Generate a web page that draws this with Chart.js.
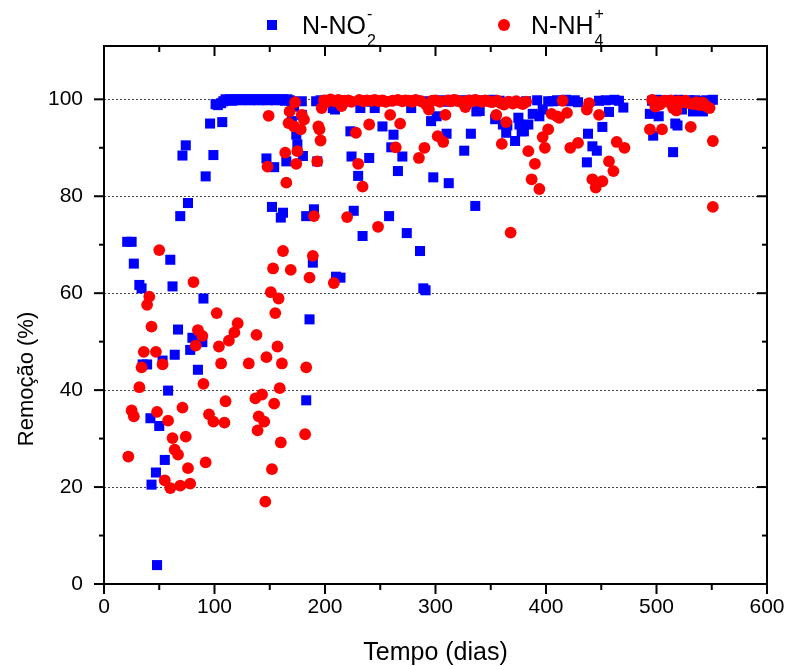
<!DOCTYPE html>
<html><head><meta charset="utf-8">
<script src="https://cdn.jsdelivr.net/npm/chart.js@4/dist/chart.umd.min.js"></script>
<style>html,body{margin:0;padding:0;background:#fff;}#wrap{width:787px;height:666px;}</style>
</head><body><div id="wrap"><canvas id="c" width="787" height="666"></canvas></div>
<script>
// ---- Data ----
const no2Days = [21,25,27,32,34,35,39,42,43,47,48,50,53,55,58,60,62,64,67,69,71,74,76,78,80,85,89,90,92,96,99,101,103,106,107,
108,110,112,114,116,118,120,122,124,126,128,130,132,134,136,138,140,142,144,146,148,150,152,154,156,158,160,162,164,166,168,170,
147,152,154,160,162,165,170,172,174,175,179,179,180,183,183,186,189,190,192,193,196,200,204,207,209,210,212,214,216,220,223,224,226,230,232,234,236,240,242,245,248,252,256,258,260,262,264,266,270,272,274,278,282,286,289,291,293,296,298,301,304,308,310,312,316,320,324,326,328,332,334,336,337,340,344,348,352,354,358,361,364,365,368,372,375,376,378,380,382,384,388,392,394,397,402,406,410,414,418,422,426,429,437,438,442,446,448,451,454,457,462,466,470,494,496,497,500,502,505,508,512,515,517,519,520,523,526,530,533,535,538,542,545,548,551];
const no2Values = [70.6,70.6,66.1,61.7,61.0,45.3,45.3,34.2,20.5,23.0,3.9,32.6,46.1,25.6,39.9,66.9,61.4,47.3,52.5,75.9,88.4,90.5,78.6,48.3,50.8,44.2,49.9,58.9,84.1,95.0,88.5,99.0,98.8,99.2,95.3,
99.6,100,99.8,100,99.7,100,99.9,100,99.8,100,99.9,100,99.8,100,99.9,100,99.8,100,99.9,100,99.8,100,99.9,100,99.8,100,99.9,100,99.7,100,99.8,99.6,
87.8,77.8,86.0,75.6,76.6,87.2,95.5,98.5,92.7,90.7,96.8,99.6,88.3,75.9,37.9,54.6,66.3,77.3,99.6,87.2,99.8,99.5,99.9,98.2,97.9,63.4,99.7,63.2,99.8,99.5,93.4,88.2,77.0,84.2,98.2,71.8,99.8,87.9,99.5,98.2,99.7,94.4,99.6,75.9,90.1,92.7,99.8,85.2,88.2,99.7,72.4,98.2,99.8,68.7,61.0,60.6,99.6,95.5,83.9,96.5,99.8,99.5,92.9,82.7,99.9,99.6,99.8,89.4,99.7,92.9,99.9,78.0,97.5,97.6,99.8,99.6,99.9,95.9,99.7,94.8,93.1,94.6,99.5,91.4,96.2,94.8,93.4,93.4,99.6,94.8,97.0,99.8,96.5,97.9,99.6,99.6,99.8,99.7,99.9,99.6,99.8,99.4,87.0,92.9,90.3,89.4,99.7,94.3,99.8,97.4,99.9,99.7,98.3,97.0,99.7,92.5,99.9,96.5,99.6,99.8,99.7,89.1,95.0,94.6,99.9,97.9,99.7,99.8,97.5,99.8,99.6,97.5,99.8,99.6,99.9];
const nh4Days = [22,25,27,32,34,36,39,41,43,47,48,50,53,55,58,60,62,64,67,69,71,74,76,78,81,83,85,89,90,92,95,99,102,104,106,109,110,113,118,121,131,137,138,139,140,143,145,146,147,148,149,151,152,153,154,155,157,158,159,160,161,162,164,165,167,168,169,172,173,174,175,178,179,181,182,183,186,189,190,193,194,195,196,197,
199,202,205,208,209,212,215,218,220,221,224,228,230,231,234,235,238,240,242,245,248,249,252,255,259,261,264,266,268,270,273,276,279,282,285,287,290,292,294,297,300,302,304,307,309,311,314,317,320,323,327,330,333,336,339,342,345,348,351,355,356,359,360,362,364,366,368,370,373,376,379,382,384,387,390,394,397,399,402,405,410,412,415,419,422,429,437,439,442,445,448,451,457,461,464,471,
494,496,499,501,503,505,507,510,513,515,518,520,523,526,529,531,533,536,539,542,545,548,551,551];
const nh4Values = [26.3,35.8,34.6,40.6,44.7,47.9,57.6,59.3,53.1,47.9,35.5,68.9,45.3,21.4,33.7,19.8,30.1,27.7,26.7,20.3,36.4,30.4,23.9,20.7,62.3,49.2,52.4,51.2,41.3,25.1,35.0,33.5,55.9,49.0,45.5,33.3,37.7,50.2,51.9,53.8,45.5,38.3,51.4,31.7,34.6,39.1,33.5,17.0,46.8,86.1,96.6,60.2,23.7,65.1,37.2,55.9,49.0,58.9,40.4,29.2,45.5,68.7,89.0,82.8,95.1,97.5,64.8,94.4,99.4,86.7,89.3,93.8,96.8,95.8,30.9,44.7,63.2,67.7,75.9,87.2,94.4,93.8,91.5,98.2,
99.8,99.5,100,62.1,99.6,99.9,98.6,99.7,75.7,99.8,99.5,93.1,86.7,99.9,82.0,99.6,99.8,94.8,99.7,99.9,73.7,99.6,99.8,99.5,96.8,99.7,90.1,99.9,95.0,99.6,99.8,99.7,99.5,99.9,87.9,99.6,90.0,98.8,97.9,99.7,99.8,92.4,99.5,91.2,96.8,99.8,99.6,99.9,99.7,99.5,98.4,99.8,99.6,99.9,99.7,99.5,99.8,99.6,99.4,96.8,99.7,99.2,90.8,98.9,95.3,99.5,72.5,99.1,99.6,99.3,99.0,99.5,89.3,83.5,86.7,81.5,92.2,90.0,93.8,97.0,96.5,96.2,99.7,97.2,90.0,91.0,97.9,99.2,83.5,81.8,96.8,83.1,87.2,85.2,91.2,90.0,
93.8,99.9,98.5,99.4,98.9,93.8,99.7,99.5,99.8,98.2,97.7,99.6,99.4,99.7,99.2,94.3,99.0,99.4,98.8,99.3,98.6,98.2,91.4,77.8];
const xTickValues = [0,100,200,300,400,500,600];
const xMinorValues = [50,150,250,350,450,550];
const yTickValues = [0,20,40,60,80,100];
const yMinorValues = [10,30,50,70,90];
const gridValues = [20,40,60,80,100];

const FONT = "'Liberation Sans', Arial, Helvetica, sans-serif";

const framePlugin = {
  id: 'frame',
  beforeDatasetsDraw(chart) {
    const {ctx, chartArea: a, scales: {y}} = chart;
    ctx.save();
    ctx.strokeStyle = '#444'; ctx.lineWidth = 1; ctx.setLineDash([2, 2]);
    gridValues.forEach(v => {
      const py = Math.round(y.getPixelForValue(v)) + 0.5;
      ctx.beginPath(); ctx.moveTo(a.left, py); ctx.lineTo(a.right, py); ctx.stroke();
    });
    ctx.restore();
  },
  afterDatasetsDraw(chart) {
    const {ctx, chartArea: a, scales: {x, y}} = chart;
    ctx.save();
    ctx.strokeStyle = '#000'; ctx.lineWidth = 2; ctx.setLineDash([]);
    ctx.strokeRect(a.left, a.top, a.right - a.left, a.bottom - a.top);
    const tick = (x1, y1, x2, y2) => { ctx.beginPath(); ctx.moveTo(x1, y1); ctx.lineTo(x2, y2); ctx.stroke(); };
    xTickValues.forEach(v => { const px = x.getPixelForValue(v); tick(px, a.bottom, px, a.bottom + 10); tick(px, a.top, px, a.top + 10); });
    xMinorValues.forEach(v => { const px = x.getPixelForValue(v); tick(px, a.bottom, px, a.bottom + 6); tick(px, a.top, px, a.top + 6); });
    yTickValues.forEach(v => { const py = y.getPixelForValue(v); tick(a.left - 10, py, a.left, py); tick(a.right - 10, py, a.right, py); });
    yMinorValues.forEach(v => { const py = y.getPixelForValue(v); tick(a.left - 5, py, a.left, py); tick(a.right - 5, py, a.right, py); });
    ctx.restore();
  },
  afterDraw(chart) {
    const {ctx, chartArea: a} = chart;
    ctx.save();
    ctx.fillStyle = '#000';
    ctx.font = `25px ${FONT}`;
    ctx.textAlign = 'center'; ctx.textBaseline = 'alphabetic';
    ctx.fillText('Tempo (dias)', (a.left + a.right) / 2, 660);
    ctx.save();
    ctx.translate(33, 379);
    ctx.rotate(-Math.PI / 2);
    ctx.font = `22px ${FONT}`;
    ctx.fillText('Remoção (%)', 0, 0);
    ctx.restore();
    ctx.textAlign = 'left';
    ctx.fillStyle = '#0000ff';
    ctx.fillRect(267, 20, 10, 10);
    ctx.fillStyle = '#ff0000';
    ctx.beginPath(); ctx.arc(504, 25, 6, 0, Math.PI * 2); ctx.fill();
    ctx.fillStyle = '#000';
    const entry = (x0, main, sub, sup) => {
      ctx.font = `25px ${FONT}`;
      ctx.fillText(main, x0, 34);
      const w = ctx.measureText(main).width;
      ctx.font = `16px ${FONT}`;
      ctx.fillText(sub, x0 + w + 1, 46);
      ctx.fillText(sup, x0 + w + 1, 19);
    };
    entry(302, 'N-NO', '2', '-');
    entry(531, 'N-NH', '4', '+');
    ctx.restore();
  }
};

const toPoints = (xs, ys) => xs.map((d, i) => ({x: d, y: ys[i]}));

new Chart(document.getElementById('c'), {
  type: 'scatter',
  data: {
    datasets: [
      { label: 'N-NO2-', data: toPoints(no2Days, no2Values), pointStyle: 'rect', pointRadius: 7.1, pointHoverRadius: 7.1,
        backgroundColor: '#0000ff', borderWidth: 0, order: 2 },
      { label: 'N-NH4+', data: toPoints(nh4Days, nh4Values), pointStyle: 'circle', pointRadius: 5.9, pointHoverRadius: 5.9,
        backgroundColor: '#ff0000', borderWidth: 0, order: 1 }
    ]
  },
  options: {
    responsive: false, animation: false, devicePixelRatio: 1,
    layout: { padding: { left: 0, right: 20, top: 46, bottom: 0 } },
    plugins: { legend: { display: false }, tooltip: { enabled: false } },
    scales: {
      x: {
        type: 'linear', min: 0, max: 600,
        afterFit: s => { s.height = 82; s.paddingLeft = 0; s.paddingRight = 0; },
        afterBuildTicks: s => { s.ticks = xTickValues.map(v => ({value: v})); },
        grid: { display: false, drawTicks: false },
        border: { display: false },
        ticks: { color: '#000', font: { size: 21, family: FONT }, padding: 11, maxRotation: 0 }
      },
      y: {
        type: 'linear', min: 0, max: 111,
        afterFit: s => { s.width = 104; s.paddingTop = 0; s.paddingBottom = 0; },
        afterBuildTicks: s => { s.ticks = yTickValues.map(v => ({value: v})); },
        grid: { display: false, drawTicks: false },
        border: { display: false },
        ticks: { color: '#000', font: { size: 21, family: FONT }, padding: 21 }
      }
    }
  },
  plugins: [framePlugin]
});
</script>
</body></html>
